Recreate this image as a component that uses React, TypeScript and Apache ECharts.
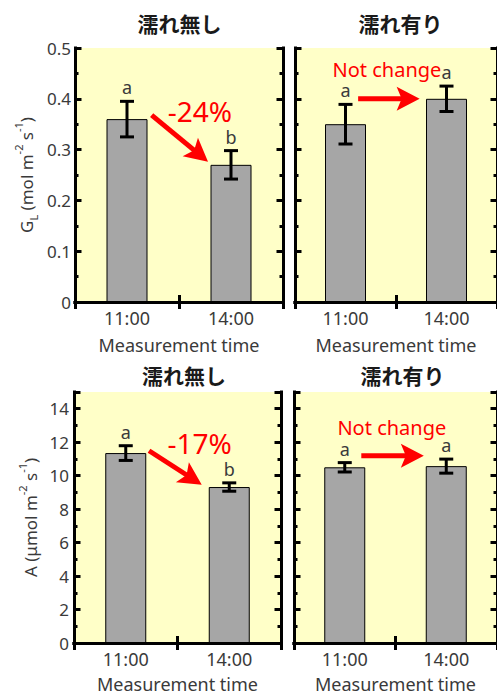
import React, { useEffect, useRef } from 'react';
import * as echarts from 'echarts';

// ---------- data ----------
const categories = ['11:00', '14:00'];

const glDry = [0.36, 0.27];
const glDryErr = [0.035, 0.028];
const glDryLetters = ['a', 'b'];

const glWet = [0.35, 0.4];
const glWetErr = [0.039, 0.025];
const glWetLetters = ['a', 'a'];

const aDry = [11.35, 9.32];
const aDryErr = [0.44, 0.25];
const aDryLetters = ['a', 'b'];

const aWet = [10.5, 10.57];
const aWetErr = [0.28, 0.42];
const aWetLetters = ['a', 'a'];

const glScale = { min: 0, max: 0.5, major: 0.1, minor: 0.05 };
const aScale = { min: 0, max: 15, major: 2, minor: 1 };

const panelTitles = ['濡れ無し', '濡れ有り', '濡れ無し', '濡れ有り'];
const xAxisName = 'Measurement time';
const glAxisName = '{n|G}{sub|L}{n| (mol m}{sup|-2}{n| s}{sup|-1}{n|)}';
const aAxisName = '{n|A (μmol m}{sup|-2}{n| s}{sup|-1}{n|)}';

// annotation arrows: [startCat, startVal, tipCat, tipVal] (category units: 0 = first bar centre, 1 = second)
const annotTexts = ['-24%', 'Not change', '-17%', 'Not change'];
const annotArrows = [
  [0.237, 0.368, 0.779, 0.276],
  [0.125, 0.4, 0.734, 0.4],
  [0.225, 11.49, 0.734, 9.46],
  [0.163, 11.19, 0.779, 11.19],
];
const annotTextPos = [
  [0.7, 0.376],
  [0.41, 0.458],
  [0.713, 11.95],
  [0.464, 12.89],
];
const annotFontSize = [28, 20, 28, 20];

// ---------- layout / style ----------
const FONT = "'Noto Sans', 'Noto Sans CJK JP', sans-serif";
const CJK = "'Noto Sans CJK JP', 'Noto Sans', sans-serif";
const TEXT = '#3a3a3a';
const RED = '#ff0000';
const BG = '#ffffc8';
const BAR = '#a6a6a6';

const grids = [
  { left: 75, top: 48, width: 208, height: 254 },
  { left: 295, top: 48, width: 208, height: 254 },
  { left: 74, top: 392, width: 207, height: 252 },
  { left: 294, top: 392, width: 208, height: 252 },
];
const titlePos = [
  [179.5, 22.5],
  [400.5, 22.5],
  [184, 375],
  [402.5, 375],
];

const panels = [
  { values: glDry, errs: glDryErr, letters: glDryLetters, scale: glScale, name: glAxisName, nameGap: 36, labelMargin: 4, xNameGap: 34, showLabels: true },
  { values: glWet, errs: glWetErr, letters: glWetLetters, scale: glScale, name: '', nameGap: 36, labelMargin: 4, xNameGap: 34, showLabels: false },
  { values: aDry, errs: aDryErr, letters: aDryLetters, scale: aScale, name: aAxisName, nameGap: 31, labelMargin: 5, xNameGap: 32, showLabels: true },
  { values: aWet, errs: aWetErr, letters: aWetLetters, scale: aScale, name: '', nameGap: 31, labelMargin: 5, xNameGap: 32, showLabels: false },
];

const frameLine = { show: true, lineStyle: { color: '#000', width: 3, cap: 'square' } };

function buildOption() {
  const xAxis: any[] = [];
  const yAxis: any[] = [];
  const series: any[] = [];

  panels.forEach((p, g) => {
    xAxis.push({
      type: 'category',
      gridIndex: g,
      position: 'bottom',
      data: categories,
      z: 5,
      axisLine: frameLine,
      axisTick: { show: true, inside: true, length: 7, lineStyle: { color: '#000', width: 3 } },
      axisLabel: { margin: 7, fontSize: 18, color: TEXT, fontFamily: FONT },
      name: xAxisName,
      nameLocation: 'middle',
      nameGap: p.xNameGap,
      nameTextStyle: { fontSize: 18, color: TEXT, fontFamily: FONT },
    });
    xAxis.push({
      type: 'category',
      gridIndex: g,
      position: 'top',
      data: categories,
      z: 5,
      axisLine: frameLine,
      axisTick: { show: true, inside: true, length: 7, lineStyle: { color: '#000', width: 3 } },
      axisLabel: { show: false },
    });

    const s = p.scale;
    const majorFmt = (v: number) => {
      const r = v / s.major;
      if (Math.abs(r - Math.round(r)) > 1e-6) return '';
      return String(Number(v.toFixed(3)));
    };
    // left major
    yAxis.push({
      type: 'value',
      gridIndex: g,
      position: 'left',
      min: s.min,
      max: s.max,
      interval: s.major,
      z: 5,
      axisLine: frameLine,
      splitLine: { show: false },
      axisTick: { show: true, inside: true, length: 6.5, lineStyle: { color: '#000', width: 3 } },
      axisLabel: { show: p.showLabels, margin: p.labelMargin, fontSize: 17, color: TEXT, fontFamily: FONT, formatter: majorFmt },
      name: p.name,
      nameLocation: 'middle',
      nameGap: p.nameGap,
      nameTextStyle: {
        color: TEXT,
        fontFamily: FONT,
        fontSize: 17,
        rich: {
          n: { fontSize: 17, color: TEXT, fontFamily: FONT, lineHeight: 26 },
          sup: { fontSize: 11, color: TEXT, fontFamily: FONT, verticalAlign: 'top', lineHeight: 12 },
          sub: { fontSize: 11, color: TEXT, fontFamily: FONT, verticalAlign: 'bottom', lineHeight: 12 },
        },
      },
    });
    // left minor
    yAxis.push({
      type: 'value',
      gridIndex: g,
      position: 'left',
      min: s.min,
      max: s.max,
      interval: s.minor,
      z: 5,
      axisLine: { show: false },
      splitLine: { show: false },
      axisTick: { show: true, inside: true, length: 3.5, lineStyle: { color: '#000', width: 3 } },
      axisLabel: { show: false },
    });
    // right major
    yAxis.push({
      type: 'value',
      gridIndex: g,
      position: 'right',
      min: s.min,
      max: s.max,
      interval: s.major,
      z: 5,
      axisLine: frameLine,
      splitLine: { show: false },
      axisTick: { show: true, inside: true, length: 6.5, lineStyle: { color: '#000', width: 3 } },
      axisLabel: { show: false },
    });
    // right minor
    yAxis.push({
      type: 'value',
      gridIndex: g,
      position: 'right',
      min: s.min,
      max: s.max,
      interval: s.minor,
      z: 5,
      axisLine: { show: false },
      splitLine: { show: false },
      axisTick: { show: true, inside: true, length: 3.5, lineStyle: { color: '#000', width: 3 } },
      axisLabel: { show: false },
    });

    const xi = g * 2;
    const yi = g * 4;

    series.push({
      type: 'bar',
      xAxisIndex: xi,
      yAxisIndex: yi,
      data: p.values,
      barWidth: 41,
      itemStyle: { color: BAR, borderColor: '#000', borderWidth: 1 },
      z: 2,
    });

    series.push({
      type: 'custom',
      xAxisIndex: xi,
      yAxisIndex: yi,
      z: 3,
      clip: false,
      encode: { x: 0, y: [1, 2] },
      data: p.values.map((v, i) => [i, v - p.errs[i], v + p.errs[i]]),
      renderItem: (params: any, api: any) => {
        const x = api.value(0);
        const lo = api.coord([x, api.value(1)]);
        const hi = api.coord([x, api.value(2)]);
        const cap = 7;
        const ls = { stroke: '#000', lineWidth: 3 };
        return {
          type: 'group',
          children: [
            { type: 'line', shape: { x1: lo[0], y1: lo[1], x2: hi[0], y2: hi[1] }, style: ls },
            { type: 'line', shape: { x1: lo[0] - cap, y1: lo[1], x2: lo[0] + cap, y2: lo[1] }, style: ls },
            { type: 'line', shape: { x1: hi[0] - cap, y1: hi[1], x2: hi[0] + cap, y2: hi[1] }, style: ls },
            {
              type: 'text',
              x: hi[0],
              y: hi[1] - 5,
              style: {
                text: p.letters[params.dataIndex],
                fill: TEXT,
                fontSize: 18,
                fontFamily: FONT,
                align: 'center',
                verticalAlign: 'bottom',
              },
            },
          ],
        };
      },
    });

    const arrow = annotArrows[g];
    const tpos = annotTextPos[g];
    series.push({
      type: 'custom',
      xAxisIndex: xi,
      yAxisIndex: yi,
      z: 4,
      clip: false,
      encode: { x: 0, y: 1 },
      data: [[0, arrow[1]]],
      renderItem: (params: any, api: any) => {
        const toPx = (u: number, v: number) => {
          const a = api.coord([0, v]);
          const b = api.coord([1, v]);
          return [a[0] + u * (b[0] - a[0]), a[1]];
        };
        const st = toPx(arrow[0], arrow[1]);
        const tip = toPx(arrow[2], arrow[3]);
        const dx = tip[0] - st[0];
        const dy = tip[1] - st[1];
        const len = Math.sqrt(dx * dx + dy * dy);
        const ux = dx / len;
        const uy = dy / len;
        const nx = -uy;
        const ny = ux;
        const H = 23;
        const W = 12;
        const notch = 5;
        const back = [tip[0] - ux * H, tip[1] - uy * H];
        const inner = [tip[0] - ux * (H - notch), tip[1] - uy * (H - notch)];
        const tp = toPx(tpos[0], tpos[1]);
        return {
          type: 'group',
          children: [
            {
              type: 'line',
              shape: { x1: st[0], y1: st[1], x2: inner[0] + ux * 1, y2: inner[1] + uy * 1 },
              style: { stroke: RED, lineWidth: 5 },
            },
            {
              type: 'polygon',
              shape: {
                points: [
                  tip,
                  [back[0] + nx * W, back[1] + ny * W],
                  inner,
                  [back[0] - nx * W, back[1] - ny * W],
                ],
              },
              style: { fill: RED },
            },
            {
              type: 'text',
              x: tp[0],
              y: tp[1],
              style: {
                text: annotTexts[g],
                fill: RED,
                fontSize: annotFontSize[g],
                fontFamily: FONT,
                align: 'center',
                verticalAlign: 'middle',
              },
            },
          ],
        };
      },
    });
  });

  const graphic = panelTitles.map((t, i) => ({
    type: 'text',
    x: titlePos[i][0],
    y: titlePos[i][1],
    style: {
      text: t,
      fill: '#1a1a1a',
      font: `bold 21px ${CJK}`,
      fontSize: 21,
      fontWeight: 'bold',
      fontFamily: CJK,
      align: 'center',
      verticalAlign: 'middle',
      textAlign: 'center',
      textVerticalAlign: 'middle',
    },
  }));

  return {
    animation: false,
    backgroundColor: '#ffffff',
    textStyle: { fontFamily: FONT },
    grid: grids.map((g) => ({ ...g, show: true, backgroundColor: BG, borderWidth: 0, containLabel: false })),
    xAxis,
    yAxis,
    series,
    graphic,
  };
}

export default function App() {
  const ref = useRef<HTMLDivElement>(null);
  useEffect(() => {
    if (!ref.current) return;
    const chart = echarts.init(ref.current, undefined, { renderer: 'svg' });
    chart.setOption(buildOption() as any);
    return () => {
      chart.dispose();
    };
  }, []);
  return (
    <div
      ref={ref}
      style={{ position: 'absolute', left: 0, top: 0, width: 497, height: 694, background: '#fff' }}
    />
  );
}
